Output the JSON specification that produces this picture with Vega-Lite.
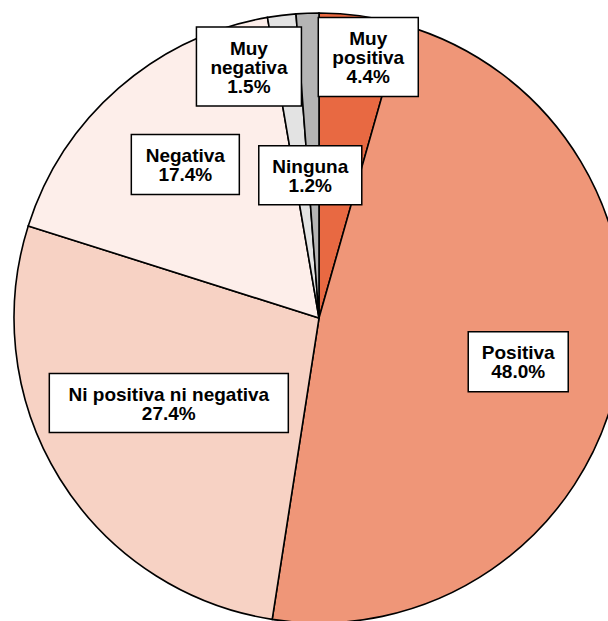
{
  "$schema": "https://vega.github.io/schema/vega-lite/v6.json",
  "width": 608,
  "height": 621,
  "autosize": {"type": "none"},
  "padding": 0,
  "background": "white",
  "config": {
    "view": {"stroke": null},
    "text": {"font": "Liberation Sans", "fontWeight": "bold", "fontSize": 19, "lineHeight": 19, "align": "center", "baseline": "middle", "color": "#000000", "lineBreak": "|"},
    "point": {"size": 4, "filled": true, "fill": "white", "stroke": "black", "strokeWidth": 1.5, "opacity": 1, "fillOpacity": 1, "strokeOpacity": 1}
  },
  "data": {
    "values": [
      {"categoria": "Muy positiva", "etiqueta": "Muy|positiva", "pct": 4.4, "orden": 1},
      {"categoria": "Positiva", "etiqueta": "Positiva", "pct": 48.0, "orden": 2},
      {"categoria": "Ni positiva ni negativa", "etiqueta": "Ni positiva ni negativa", "pct": 27.4, "orden": 3},
      {"categoria": "Negativa", "etiqueta": "Negativa", "pct": 17.4, "orden": 4},
      {"categoria": "Muy negativa", "etiqueta": "Muy|negativa", "pct": 1.5, "orden": 5},
      {"categoria": "Ninguna", "etiqueta": "Ninguna", "pct": 1.2, "orden": 6}
    ]
  },
  "transform": [
    {"stack": "pct", "groupby": [], "sort": [{"field": "orden", "order": "ascending"}], "as": ["p0", "p1"]},
    {"joinaggregate": [{"op": "sum", "field": "pct", "as": "total"}]},
    {"calculate": "PI * (datum.p0 + datum.p1) / datum.total", "as": "ang"},
    {"calculate": "0.672 * sin(datum.ang)", "as": "lx"},
    {"calculate": "0.672 * cos(datum.ang)", "as": "ly"},
    {"calculate": "datum.etiqueta + '|' + format(datum.pct, '.1f') + '%'", "as": "texto"}
  ],
  "layer": [
    {
      "mark": {"type": "arc", "outerRadius": 305, "stroke": "black", "strokeWidth": 1.6},
      "encoding": {
        "theta": {"field": "pct", "type": "quantitative", "stack": true},
        "order": {"field": "orden", "type": "quantitative"},
        "color": {
          "field": "categoria",
          "type": "nominal",
          "scale": {
            "domain": ["Muy positiva", "Positiva", "Ni positiva ni negativa", "Negativa", "Muy negativa", "Ninguna"],
            "range": ["#E86942", "#EF9678", "#F7D2C4", "#FDEEEA", "#E3E3E3", "#B4B4B4"]
          },
          "legend": null
        },
        "x": {"datum": 0, "type": "quantitative", "scale": {"domain": [-1.0459, 0.9475], "nice": false, "zero": false}, "axis": null},
        "y": {"datum": 0, "type": "quantitative", "scale": {"domain": [-0.9934, 1.0426], "nice": false, "zero": false}, "axis": null}
      }
    },
    {
      "transform": [{"filter": "datum.categoria === 'Muy positiva'"}],
      "encoding": {"x": {"field": "lx", "type": "quantitative"}, "y": {"field": "ly", "type": "quantitative"}},
      "layer": [
        {"mark": {"type": "point", "shape": "M-29,-97.5H71V-18.5H-29Z"}},
        {"mark": {"type": "text", "dx": 21, "dy": -76}, "encoding": {"text": {"field": "texto"}}}
      ]
    },
    {
      "transform": [{"filter": "datum.categoria === 'Positiva'"}],
      "encoding": {"x": {"field": "lx", "type": "quantitative"}, "y": {"field": "ly", "type": "quantitative"}},
      "layer": [
        {"mark": {"type": "point", "shape": "M-51,-30H49V30H-51Z"}},
        {"mark": {"type": "text", "dx": -1, "dy": -8.5}, "encoding": {"text": {"field": "texto"}}}
      ]
    },
    {
      "transform": [{"filter": "datum.categoria === 'Ni positiva ni negativa'"}],
      "encoding": {"x": {"field": "lx", "type": "quantitative"}, "y": {"field": "ly", "type": "quantitative"}},
      "layer": [
        {"mark": {"type": "point", "shape": "M-95.5,-52.5H143.5V6.5H-95.5Z"}},
        {"mark": {"type": "text", "dx": 24, "dy": -31.5}, "encoding": {"text": {"field": "texto"}}}
      ]
    },
    {
      "transform": [{"filter": "datum.categoria === 'Negativa'"}],
      "encoding": {"x": {"field": "lx", "type": "quantitative"}, "y": {"field": "ly", "type": "quantitative"}},
      "layer": [
        {"mark": {"type": "point", "shape": "M-53,-29H55V31H-53Z"}},
        {"mark": {"type": "text", "dx": 1, "dy": -7.5}, "encoding": {"text": {"field": "texto"}}}
      ]
    },
    {
      "transform": [{"filter": "datum.categoria === 'Muy negativa'"}],
      "encoding": {"x": {"field": "lx", "type": "quantitative"}, "y": {"field": "ly", "type": "quantitative"}},
      "layer": [
        {"mark": {"type": "point", "shape": "M-97.5,-87.5H7.5V-8.5H-97.5Z"}},
        {"mark": {"type": "text", "dx": -45, "dy": -66}, "encoding": {"text": {"field": "texto"}}}
      ]
    },
    {
      "transform": [{"filter": "datum.categoria === 'Ninguna'"}],
      "encoding": {"x": {"field": "lx", "type": "quantitative"}, "y": {"field": "ly", "type": "quantitative"}},
      "layer": [
        {"mark": {"type": "point", "shape": "M-52.5,32.5H50.5V91.5H-52.5Z"}},
        {"mark": {"type": "text", "dx": -1, "dy": 53.5}, "encoding": {"text": {"field": "texto"}}}
      ]
    }
  ]
}
